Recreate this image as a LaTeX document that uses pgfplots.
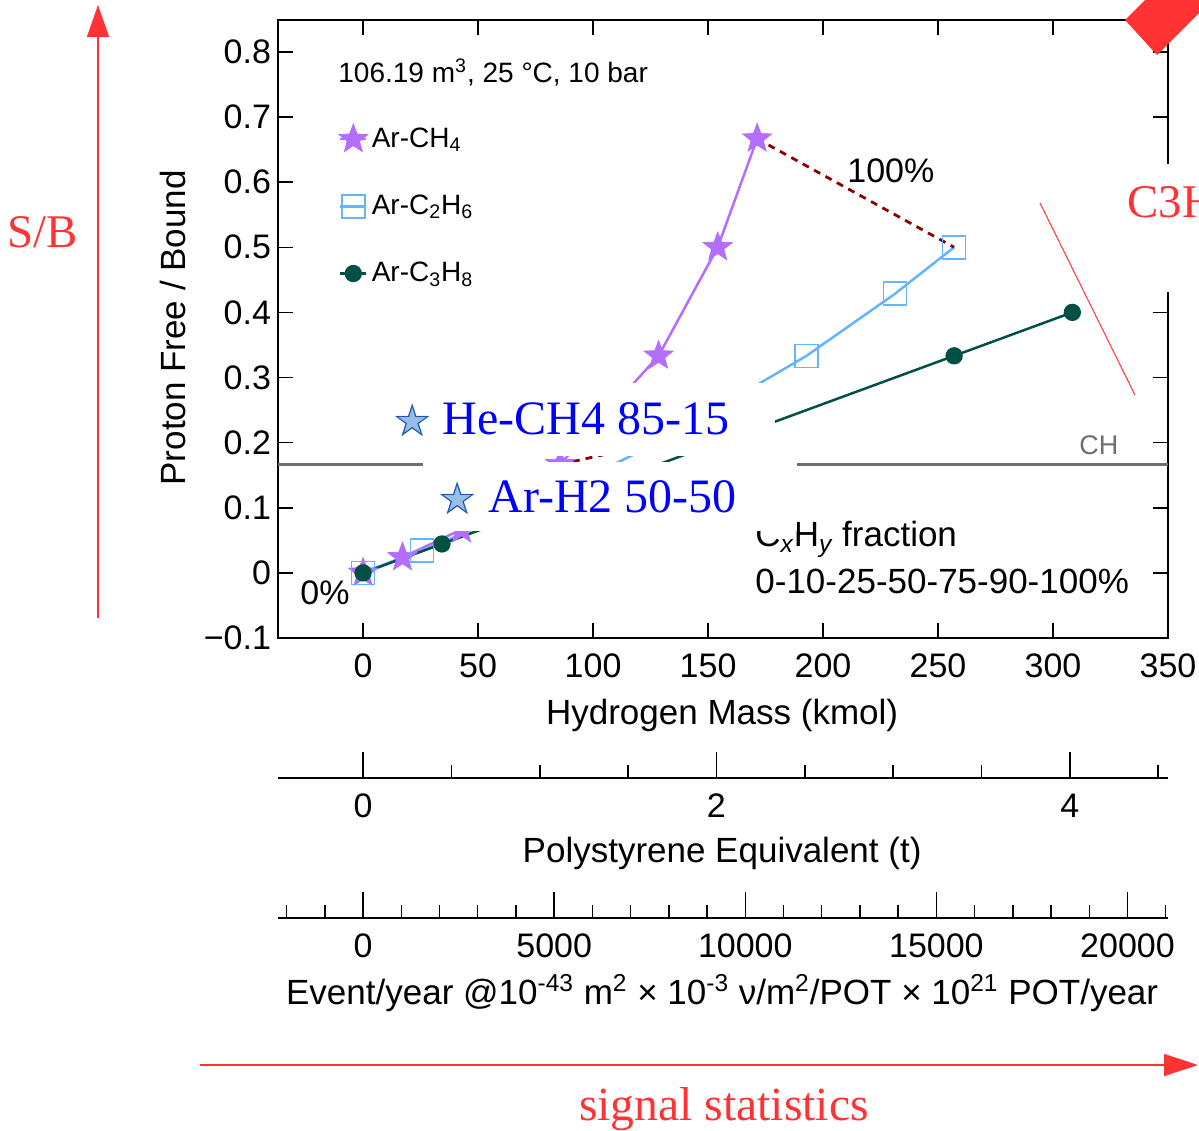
\documentclass[border=0pt]{standalone}
\usepackage{pgfplots}
\pgfplotsset{compat=1.18}
\usepackage{fontspec}
\setmainfont{Liberation Sans}
\newfontfamily\serif{Liberation Serif}
\newfontfamily\dejavu{DejaVu Sans}
\usetikzlibrary{arrows.meta}
\definecolor{ch4}{RGB}{180,110,255}
\definecolor{c2h6}{RGB}{100,180,255}
\definecolor{c3h8}{RGB}{0,80,70}
\definecolor{dred}{RGB}{140,0,0}
\definecolor{ared}{RGB}{255,51,51}
\definecolor{starblue}{RGB}{30,85,170}
\definecolor{starlight}{RGB}{150,190,235}
\definecolor{chgray}{RGB}{110,110,110}
\newcommand{\fsz}[1]{\fontsize{#1}{#1}\selectfont}
\newcommand{\bluestar}{{\dejavu\fsz{22.5}\ooalign{\textcolor{starlight}{★}\cr\textcolor{starblue}{☆}\cr}}}
\pgfdeclareplotmark{fstar}{%
  \pgfpathmoveto{\pgfpointpolar{90}{\pgfplotmarksize}}%
  \pgfpathlineto{\pgfpointpolar{126}{0.42\pgfplotmarksize}}%
  \pgfpathlineto{\pgfpointpolar{162}{\pgfplotmarksize}}%
  \pgfpathlineto{\pgfpointpolar{198}{0.42\pgfplotmarksize}}%
  \pgfpathlineto{\pgfpointpolar{234}{\pgfplotmarksize}}%
  \pgfpathlineto{\pgfpointpolar{270}{0.42\pgfplotmarksize}}%
  \pgfpathlineto{\pgfpointpolar{306}{\pgfplotmarksize}}%
  \pgfpathlineto{\pgfpointpolar{342}{0.42\pgfplotmarksize}}%
  \pgfpathlineto{\pgfpointpolar{18}{\pgfplotmarksize}}%
  \pgfpathlineto{\pgfpointpolar{54}{0.42\pgfplotmarksize}}%
  \pgfpathclose
  \pgfusepathqfillstroke
}
\begin{document}
\begin{tikzpicture}
\path[use as bounding box] (0,0) rectangle (599.5pt,565pt);
\clip (0,0) rectangle (599.5pt,565pt);

\begin{axis}[
  at={(139pt,246pt)}, anchor=south west,
  scale only axis, width=445pt, height=309pt,
  xmin=-37, xmax=350, ymin=-0.1, ymax=0.849,
  xtick={0,50,100,150,200,250,300,350},
  ytick={-0.1,0,0.1,0.2,0.3,0.4,0.5,0.6,0.7,0.8},
  yticklabels={−0.1,0,0.1,0.2,0.3,0.4,0.5,0.6,0.7,0.8},
  /pgf/number format/assume math mode=true,
  tick label style={font=\fsz{17}},
  xticklabel style={yshift=-4.5pt},
  tick align=inside, major tick length=7.5pt,
  every tick/.style={black, line width=0.75pt},
  axis line style={line width=1pt},
  xlabel={Hydrogen Mass (kmol)},
  ylabel={Proton Free / Bound},
  label style={font=\fsz{17.5}},
  xlabel style={at={(axis description cs:0.499,-0.125)}, anchor=center},
  ylabel style={at={(axis description cs:-0.118,0.502)}, anchor=center},
  legend style={at={(axis cs:-10.7,0.690)}, anchor=north west, draw=none, fill=none,
     font=\fsz{14}, row sep=18.3pt, inner sep=0pt},
  legend cell align=left,
  legend image code/.code={\draw[mark repeat=2,mark phase=2] plot coordinates {(0pt,0pt) (6.5pt,0pt) (13pt,0pt)};},
]
\addplot[chgray, line width=1.5pt, forget plot] coordinates {(-37,0.16667) (350,0.16667)};

\addplot[ch4, line width=1.25pt, mark=fstar, mark size=7.6pt, mark options={fill=ch4, draw=ch4, line width=0.4pt}]
  coordinates {(0,0) (17.13,0.0238) (42.84,0.0667) (85.68,0.1667) (128.5,0.3333) (154.2,0.5) (171.35,0.6667)};
\addlegendentry{Ar-CH\textsubscript{4}}

\addplot[c2h6, line width=1.25pt, mark=square, mark size=5.75pt, mark options={line width=0.8pt}]
  coordinates {(0,0) (25.7,0.0345) (64.3,0.0909) (128.5,0.2) (192.8,0.3333) (231.3,0.4286) (257.0,0.5)};
\addlegendentry{Ar-C\textsubscript{2}H\textsubscript{6}}

\addplot[c3h8, line width=1.25pt, mark=*, mark size=3.7pt]
  coordinates {(0,0) (34.3,0.0444) (85.7,0.1111) (171.4,0.2222) (257.0,0.3333) (308.4,0.4)};
\addlegendentry{Ar-C\textsubscript{3}H\textsubscript{8}}

\addplot[dred, line width=1.4pt, dash pattern=on 3.5pt off 3pt, forget plot]
  coordinates {(171.35,0.6667) (257.0,0.5)};
\addplot[dred, line width=1.4pt, dash pattern=on 3.5pt off 3pt, forget plot]
  coordinates {(85.68,0.1667) (128.5,0.2) (171.4,0.2222)};
\end{axis}

\begin{axis}[
  at={(139pt,176pt)}, anchor=south west, scale only axis, width=445pt, height=20pt,
  xmin=-0.48165, xmax=4.5561, ymin=0, ymax=1,
  axis x line*=bottom, axis y line=none,
  xtick={0,2,4}, minor xtick={0.5,1,1.5,2.5,3,3.5,4.5},
  tick align=inside, major tick length=13pt, minor tick length=6.5pt,
  every tick/.style={black,line width=0.75pt},
  axis line style={line width=1pt},
  tick label style={font=\fsz{17}},
  xticklabel style={yshift=-4.5pt},
  /pgf/number format/assume math mode=true,
  xlabel={Polystyrene Equivalent (t)},
  xlabel style={font=\fsz{17.5}, at={(axis description cs:0.499,0)}, anchor=center, yshift=-37.5pt},
]
\end{axis}

\begin{axis}[
  at={(139pt,106pt)}, anchor=south west, scale only axis, width=445pt, height=20pt,
  xmin=-2226, xmax=21060, ymin=0, ymax=1,
  axis x line*=bottom, axis y line=none,
  xtick={0,5000,10000,15000,20000}, xticklabels={0,5000,10000,15000,20000},
  scaled x ticks=false,
  minor xtick={-2000,-1000,1000,2000,3000,4000,6000,7000,8000,9000,11000,12000,13000,14000,16000,17000,18000,19000,21000},
  tick align=inside, major tick length=13pt, minor tick length=6.5pt,
  every tick/.style={black,line width=0.75pt},
  axis line style={line width=1pt},
  tick label style={font=\fsz{17}},
  xticklabel style={yshift=-4.5pt},
  xlabel={Event/year @10\textsuperscript{-43} m\textsuperscript{2} × 10\textsuperscript{-3} ν/m\textsuperscript{2}/POT × 10\textsuperscript{21} POT/year},
  xlabel style={font=\fsz{17.5}, at={(axis description cs:0.499,0)}, anchor=center, yshift=-37.5pt},
]
\end{axis}

\begin{scope}[x=0.5pt,y=-0.5pt,shift={(0pt,565pt)}]
% texts inside plot
\node[anchor=base west, inner sep=0pt, font=\fsz{14}] at (338,83) {106.19 m\textsuperscript{3}, 25 °C, 10 bar};
\node[anchor=base west, inner sep=0pt, font=\fsz{17}] at (847,183) {100\%};
\node[anchor=base west, inner sep=0pt, font=\fsz{17}] at (300,605) {0\%};
\node[anchor=base west, inner sep=0pt, font=\fsz{17.5}] at (755,547) {C\textsubscript{\itshape x}H\textsubscript{\itshape y} fraction};
\node[anchor=base west, inner sep=0pt, font=\fsz{17.5}] at (755,594) {0-10-25-50-75-90-100\%};
\node[anchor=base west, inner sep=0pt, font=\fsz{13.5}, text=chgray] at (1079,455) {CH};
% white boxes
\fill[white] (385,383) rectangle (775,456);
\fill[white] (423,462) rectangle (797,531);
\fill[white] (1112,164) rectangle (1205,292);
% blue labels
\node[anchor=base west, inner sep=0pt, text=blue, font=\serif\fsz{24}] at (442,435) {He-CH4 85-15};
\node[anchor=base west, inner sep=0pt, text=blue, font=\serif\fsz{24}] at (488,513) {Ar-H2 50-50};
\node[anchor=center, inner sep=0pt] at (413,420) {\bluestar};
\node[anchor=center, inner sep=0pt] at (458,498) {\bluestar};
% red annotations
\draw[ared, line width=0.75pt, -{Triangle[length=16pt,width=11pt]}] (98,618) -- (98,5);
\draw[ared, line width=0.75pt, -{Triangle[length=17pt,width=11pt]}] (200,1065) -- (1198,1065);
\node[ared, font=\serif\fsz{23.4}, anchor=base, inner sep=0pt] at (43,248) {S/B};
\node[ared, font=\serif\fsz{23.4}, anchor=base west, inner sep=0pt] at (1127,218) {C3H8};
\node[ared, font=\serif\fsz{23.8}, anchor=base, inner sep=0pt] at (724,1120) {signal statistics};
\draw[ared, line width=0.5pt] (1040,203) -- (1135,395);
\fill[ared] (1125,20) -- (1157,55) -- (1257,-45) -- (1225,-80) -- cycle;
\end{scope}
\end{tikzpicture}
\end{document}
